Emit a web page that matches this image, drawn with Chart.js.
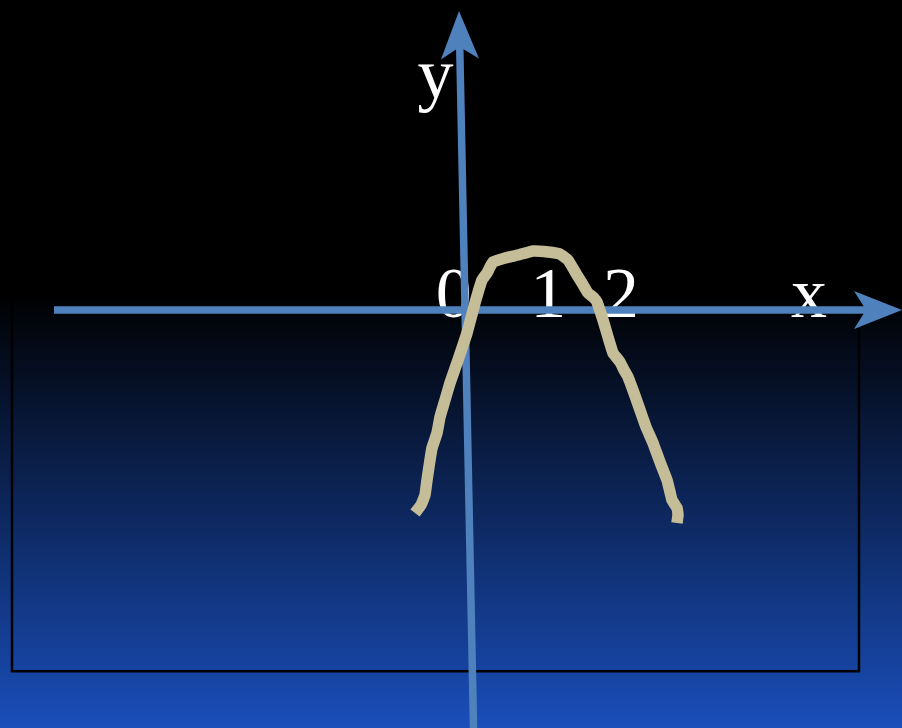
<!DOCTYPE html>
<html>
<head>
<meta charset="utf-8">
<style>
html,body{margin:0;padding:0;background:#000;}
#c{display:block;}
</style>
<script src="https://cdn.jsdelivr.net/npm/chart.js@4/dist/chart.umd.min.js"></script>
</head>
<body>
<canvas id="c" width="902" height="728"></canvas>
<script>
// ---- data (math units; 1 unit on both axes) ----
const curveX = [-0.625,-0.55,-0.5,-0.475,-0.4375,-0.4125,-0.35,-0.3125,-0.25,-0.1875,-0.0875,0.025,0.125,0.2125,0.275,0.3125,0.35,0.5,0.6625,0.85,1.0375,1.1875,1.2875,1.4,1.4625,1.5375,1.6125,1.65,1.725,1.7875,1.85,1.9375,1.9875,2.0375,2.1125,2.1875,2.2625,2.35,2.4375,2.525,2.5625,2.5875,2.65,2.6625,2.65];
const curveY = [-2.5375,-2.4375,-2.3125,-2.125,-1.875,-1.725,-1.5375,-1.3375,-1.125,-0.9125,-0.625,-0.2875,0.0875,0.375,0.4625,0.5375,0.6,0.65,0.6875,0.7375,0.725,0.7,0.625,0.4375,0.3375,0.2125,0.15,0.1,-0.125,-0.3375,-0.5375,-0.65,-0.75,-0.8375,-1.0375,-1.25,-1.4625,-1.6625,-1.9,-2.125,-2.275,-2.375,-2.475,-2.5625,-2.6625];
const tickLabels = ['0','1','2'];
const tickLabelAt = [-0.14, 1.04, 1.95];
const axisNames = ['x','y'];
// axis line end points (math units)
const xAxisFrom = [-5.1375, 0];
const xAxisTo   = [5.4625, 0];
const yAxisFrom = [0.1075, -5.25];
const yAxisTo   = [-0.075, 3.7375];

const X_MIN = -5.8125, X_MAX = 5.4625, Y_MIN = -5.225, Y_MAX = 3.875;

const AXIS_COLOR = '#4F81BD';
const CURVE_COLOR = '#C4BD97';
const FONT = '72px "Liberation Serif", "Times New Roman", serif';

const decor = {
  id: 'decor',
  beforeDraw(chart) {
    const ctx = chart.ctx, W = chart.width, H = chart.height;
    ctx.save();
    ctx.fillStyle = '#000';
    ctx.fillRect(0, 0, W, H);
    const gTop = H * 0.403;
    const g = ctx.createLinearGradient(0, gTop, 0, H);
    g.addColorStop(0, '#000000');
    g.addColorStop(1, '#1a4eba');
    ctx.fillStyle = g;
    ctx.fillRect(0, gTop, W, H - gTop);
    // frame rectangle
    ctx.strokeStyle = '#000';
    ctx.lineWidth = 2.5;
    ctx.strokeRect(W * 0.0133, H * 0.405, W * 0.939, H * 0.517);
    ctx.restore();
  },
  beforeDatasetsDraw(chart) {
    const ctx = chart.ctx, xs = chart.scales.x, ys = chart.scales.y;
    const px = v => xs.getPixelForValue(v), py = v => ys.getPixelForValue(v);
    ctx.save();
    // labels (under the axes)
    ctx.fillStyle = '#fff';
    ctx.font = FONT;
    ctx.textAlign = 'center';
    ctx.textBaseline = 'alphabetic';
    tickLabels.forEach((t, i) => ctx.fillText(t, px(tickLabelAt[i]), py(0) + 7));
    ctx.fillText(axisNames[0], px(4.3), py(0) + 7);
    ctx.fillText(axisNames[1], px(-0.37), py(2.65));

    // axes
    function arrow(from, to) {
      const x0 = px(from[0]), y0 = py(from[1]), x1 = px(to[0]), y1 = py(to[1]);
      const dx = x1 - x0, dy = y1 - y0, L = Math.hypot(dx, dy);
      const ux = dx / L, uy = dy / L, nx = -uy, ny = ux;
      const headLen = 48, notch = 36, halfW = 19;
      ctx.strokeStyle = AXIS_COLOR;
      ctx.lineWidth = 7.5;
      ctx.lineCap = 'butt';
      ctx.beginPath();
      ctx.moveTo(x0, y0);
      ctx.lineTo(x1 - ux * (notch - 2), y1 - uy * (notch - 2));
      ctx.stroke();
      ctx.fillStyle = AXIS_COLOR;
      ctx.beginPath();
      ctx.moveTo(x1, y1);
      ctx.lineTo(x1 - ux * headLen + nx * halfW, y1 - uy * headLen + ny * halfW);
      ctx.lineTo(x1 - ux * notch, y1 - uy * notch);
      ctx.lineTo(x1 - ux * headLen - nx * halfW, y1 - uy * headLen - ny * halfW);
      ctx.closePath();
      ctx.fill();
    }
    arrow(xAxisFrom, xAxisTo);
    arrow(yAxisFrom, yAxisTo);
    ctx.restore();
  }
};

new Chart(document.getElementById('c'), {
  type: 'line',
  data: {
    datasets: [{
      data: curveX.map((x, i) => ({x: x, y: curveY[i]})),
      borderColor: CURVE_COLOR,
      borderWidth: 11.5,
      borderCapStyle: 'butt',
      borderJoinStyle: 'round',
      pointRadius: 0,
      tension: 0.1,
      fill: false
    }]
  },
  options: {
    responsive: false,
    animation: false,
    layout: {padding: 0},
    plugins: {legend: {display: false}, tooltip: {enabled: false}},
    scales: {
      x: {type: 'linear', min: X_MIN, max: X_MAX, display: false},
      y: {type: 'linear', min: Y_MIN, max: Y_MAX, display: false}
    }
  },
  plugins: [decor]
});
</script>
</body>
</html>
